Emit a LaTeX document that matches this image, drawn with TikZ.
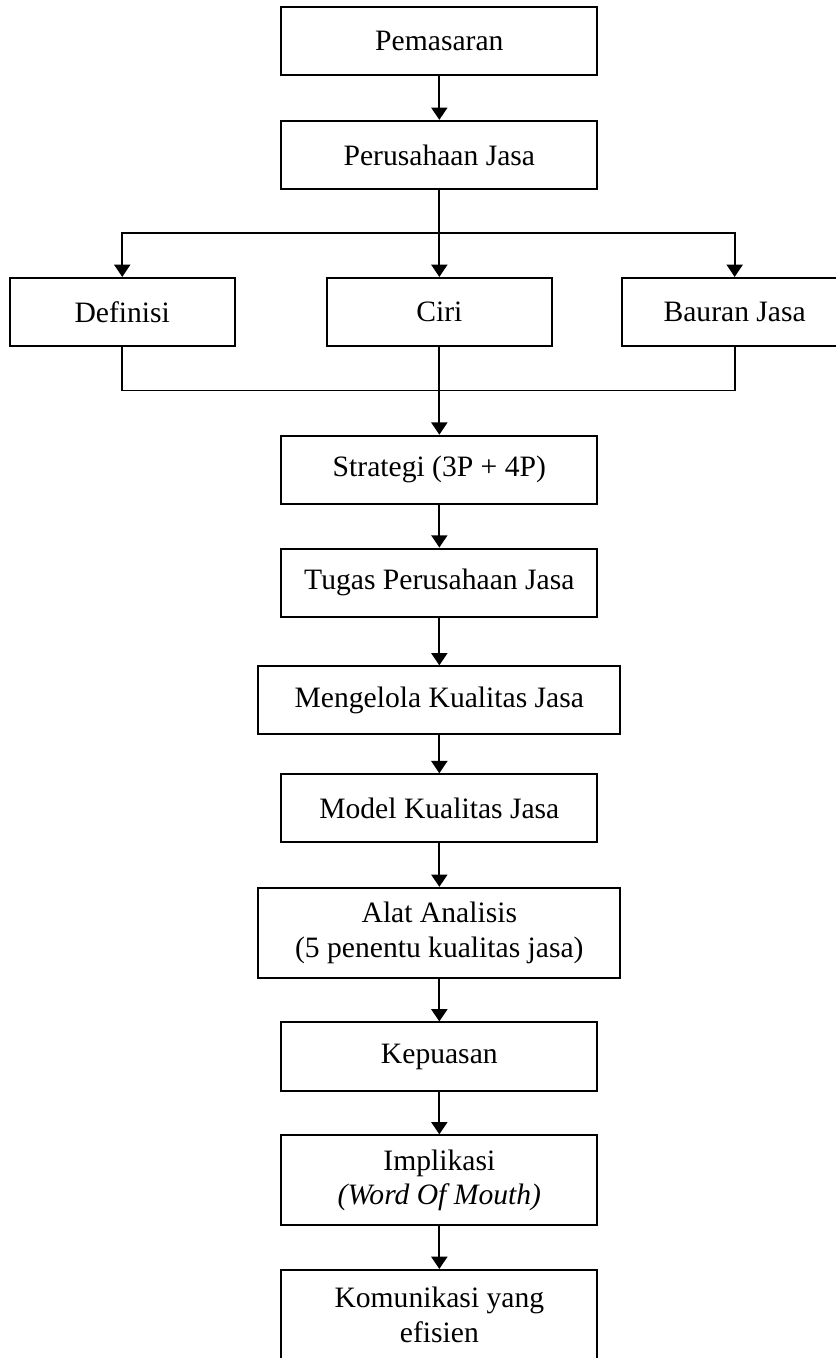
\documentclass[tikz,border=0pt]{standalone}
\usepackage{fontspec}
\setmainfont{Liberation Serif}
\usepackage{tikz}
\usetikzlibrary{positioning}
\usetikzlibrary {arrows.meta}

\tikzset{
  box/.style={draw, line width=0.8pt, minimum width=4.5cm, minimum height=0.97cm,
    align=center, inner sep=2pt, font=\fontsize{12}{14}\selectfont},
  sidebox/.style={box, minimum width=3.21cm},
  arrow/.style={line width=0.8pt, -{Triangle[width=6.5pt,length=5pt]}},
  link/.style={line width=0.8pt}
}

\begin{document}
\begin{tikzpicture}

\useasboundingbox (0,0) rectangle (11.91,-19.35);

\node[box,anchor=north] (pemasaran) at (6.26,-0.09) {Pemasaran};
\node[box,below=0.62cm of pemasaran] (perusahaan) {Perusahaan Jasa};

% three boxes in a row
\node[sidebox,below=1.24cm of perusahaan] (ciri) {Ciri};
\node[sidebox,left=1.28cm of ciri] (definisi) {Definisi};
\node[sidebox,right=0.97cm of ciri] (bauran) {Bauran Jasa};

\coordinate[below=0.62cm of perusahaan.south] (split);
\coordinate[below=0.62cm of ciri.south] (merge);

\node[box,below=1.25cm of ciri] (strategi) {Strategi (3P + 4P)};
\node[box,below=0.61cm of strategi] (tugas) {Tugas Perusahaan Jasa};
\node[box,minimum width=5.16cm,below=0.68cm of tugas] (mengelola) {Mengelola Kualitas Jasa};
\node[box,below=0.54cm of mengelola] (model) {Model Kualitas Jasa};
\node[box,minimum width=5.16cm,minimum height=1.28cm,below=0.62cm of model] (alat) {Alat Analisis\\(5 penentu kualitas jasa)};
\node[box,below=0.61cm of alat] (kepuasan) {Kepuasan};
\node[box,minimum height=1.28cm,below=0.61cm of kepuasan] (implikasi) {Implikasi\\\textit{(Word Of Mouth)}};
\node[box,minimum height=1.28cm,below=0.61cm of implikasi] (komunikasi) {Komunikasi yang\\efisien};

\draw[arrow] (pemasaran) -- (perusahaan);
\draw[arrow] (perusahaan) -- (ciri);
\draw[arrow] (split) -| (definisi);
\draw[arrow] (split) -| (bauran);

\draw[link] (definisi) |- (merge) -| (bauran);
\draw[arrow] (ciri) -- (strategi);

\draw[arrow] (strategi) -- (tugas);
\draw[arrow] (tugas) -- (mengelola);
\draw[arrow] (mengelola) -- (model);
\draw[arrow] (model) -- (alat);
\draw[arrow] (alat) -- (kepuasan);
\draw[arrow] (kepuasan) -- (implikasi);
\draw[arrow] (implikasi) -- (komunikasi);
\end{tikzpicture}
\end{document}
